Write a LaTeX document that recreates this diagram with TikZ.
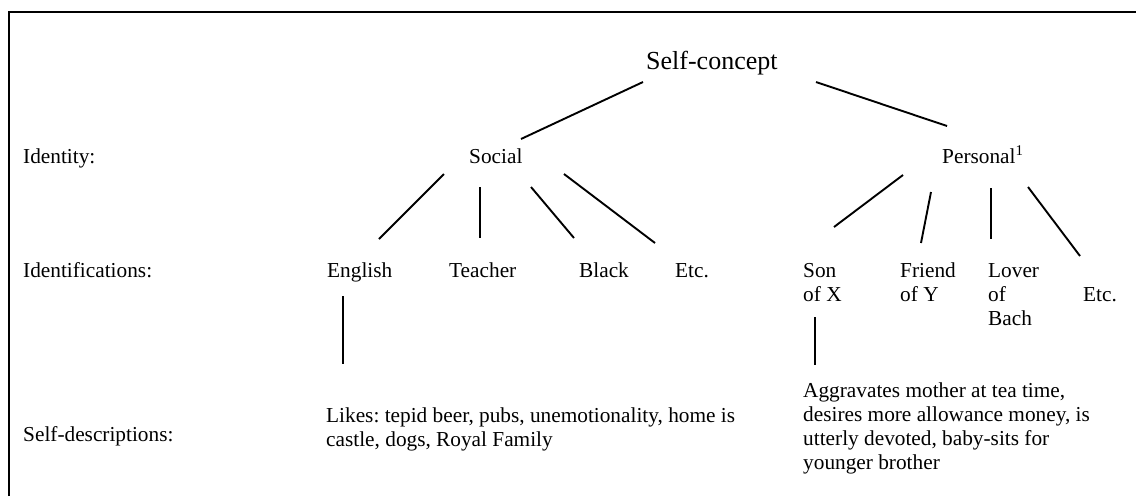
\documentclass[tikz,border=0pt]{standalone}
\usepackage{fontspec}
\setmainfont{Liberation Serif}
\frenchspacing
\begin{document}
\begin{tikzpicture}[x=1pt,y=-1pt,
  lbl/.style={anchor=base west, inner sep=0pt, font=\fontsize{21.3}{24}\selectfont\frenchspacing},
  title/.style={anchor=base west, inner sep=0pt, font=\fontsize{26}{30}\selectfont},
  link/.style={line width=1.9pt},
  frame/.style={line width=2.3pt}]
\useasboundingbox (0,0) rectangle (1136,496);

% open frame: top and left edges only
\coordinate (fr-bl) at (9,496);
\coordinate (fr-tl) at (9,12);
\coordinate (fr-tr) at (1136,12);
\draw[frame] (fr-bl) -- (fr-tl) -- (fr-tr);

% row labels
\node[lbl] (l-identity) at (23,163) {Identity:};
\node[lbl] (l-ident)    at (23,277) {Identifications:};
\node[lbl] (l-desc)     at (23,441) {Self-descriptions:};

% tree
\node[title] (self) at (646,69) {Self-concept};
\node[lbl] (social)   at (469,163) {Social};
\node[lbl] (personal) at (942,163) {Personal\textsuperscript{1}};

\node[lbl] (english) at (327,277) {English};
\node[lbl] (teacher) at (449,277) {Teacher};
\node[lbl] (black)   at (579,277) {Black};
\node[lbl] (etc-s)   at (675,277) {Etc.};

\node[lbl] (son)    at (803,277) {\begin{tabular}[t]{@{}l@{}}Son\\of X\end{tabular}};
\node[lbl] (friend) at (900,277) {\begin{tabular}[t]{@{}l@{}}Friend\\of Y\end{tabular}};
\node[lbl] (lover)  at (988,277) {\begin{tabular}[t]{@{}l@{}}Lover\\of\\Bach\end{tabular}};
\node[lbl] (etc-p)  at (1083,301) {Etc.};

\node[lbl] (likes) at (326,422) {\begin{tabular}[t]{@{}l@{}}Likes: tepid beer, pubs, unemotionality, home is\\castle, dogs, Royal Family\end{tabular}};
\node[lbl] (aggr) at (803,397) {\begin{tabular}[t]{@{}l@{}}Aggravates mother at tea time,\\desires more allowance money, is\\utterly devoted, baby-sits for\\younger brother\end{tabular}};

% connector ends (the strokes stop short of the words)
\coordinate (self-l)   at (643,82);
\coordinate (self-r)   at (816,82);
\coordinate (soc-t)    at (521,139);
\coordinate (per-t)    at (947,126);

\coordinate (soc-1) at (444,174);  \coordinate (eng-t) at (379,239);
\coordinate (soc-2) at (480,187);  \coordinate (tea-t) at (480,238);
\coordinate (soc-3) at (531,187);  \coordinate (bla-t) at (574,238);
\coordinate (soc-4) at (564,174);  \coordinate (ets-t) at (655,243);

\coordinate (per-1) at (903,175);  \coordinate (son-t) at (834,227);
\coordinate (per-2) at (931,192);  \coordinate (fri-t) at (921,243);
\coordinate (per-3) at (991,188);  \coordinate (lov-t) at (991,239);
\coordinate (per-4) at (1028,187); \coordinate (etp-t) at (1080,256);

\coordinate (eng-b) at (343,296);  \coordinate (lik-t) at (343,364);
\coordinate (son-b) at (815,317);  \coordinate (agg-t) at (815,365);

\draw[link] (self-l) -- (soc-t);
\draw[link] (self-r) -- (per-t);
\draw[link] (soc-1) -- (eng-t);
\draw[link] (soc-2) -- (tea-t);
\draw[link] (soc-3) -- (bla-t);
\draw[link] (soc-4) -- (ets-t);
\draw[link] (per-1) -- (son-t);
\draw[link] (per-2) -- (fri-t);
\draw[link] (per-3) -- (lov-t);
\draw[link] (per-4) -- (etp-t);
\draw[link] (eng-b) -- (lik-t);
\draw[link] (son-b) -- (agg-t);
\end{tikzpicture}
\end{document}
